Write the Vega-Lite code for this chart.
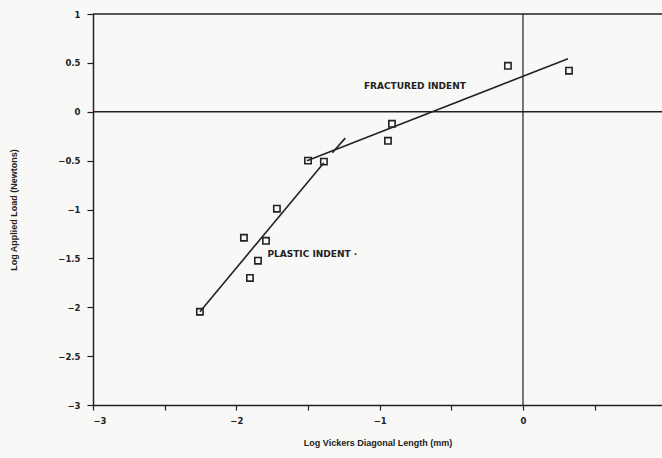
{
  "$schema": "https://vega.github.io/schema/vega-lite/v6.json",
  "width": 569,
  "height": 391,
  "autosize": {"type": "none"},
  "padding": {"left": 93, "top": 14, "right": 0, "bottom": 53},
  "background": "#f8f8f6",
  "config": {
    "view": {"stroke": null},
    "axis": {
      "labelFont": "DejaVu Sans", "labelFontWeight": "bold", "labelFontSize": 8.5, "labelColor": "#222",
      "titleFont": "Liberation Sans", "titleFontWeight": "bold", "titleFontSize": 9, "titleColor": "#222",
      "domainColor": "#222", "domainWidth": 1.5, "tickColor": "#222", "tickWidth": 1.2, "grid": false
    },
    "text": {"font": "DejaVu Sans", "fontWeight": "bold", "fontSize": 9, "fill": "#222"}
  },
  "datasets": {
    "points": [
      {"x": -2.254, "y": -2.046},
      {"x": -1.947, "y": -1.289},
      {"x": -1.905, "y": -1.70},
      {"x": -1.849, "y": -1.524},
      {"x": -1.793, "y": -1.32},
      {"x": -1.717, "y": -0.992},
      {"x": -1.50, "y": -0.50},
      {"x": -1.389, "y": -0.51},
      {"x": -0.942, "y": -0.297},
      {"x": -0.914, "y": -0.123},
      {"x": -0.105, "y": 0.47},
      {"x": 0.321, "y": 0.42}
    ],
    "fits": [
      {"series": "plastic", "x": -2.254, "y": -2.046},
      {"series": "plastic", "x": -1.389, "y": -0.522},
      {"series": "fractured", "x": -1.507, "y": -0.502},
      {"series": "fractured", "x": 0.314, "y": 0.542}
    ],
    "arrow": [
      {"x": -1.33, "y": -0.42, "x2": -1.24, "y2": -0.27}
    ],
    "labels": [
      {"x": -0.754, "y": 0.266, "label": "FRACTURED INDENT"},
      {"x": -1.47, "y": -1.453, "label": "PLASTIC INDENT ·"}
    ]
  },
  "layer": [
    {
      "data": {"values": [{"y": 1}, {"y": 0}]},
      "mark": {"type": "rule", "color": "#222", "strokeWidth": 1.5},
      "encoding": {"y": {"field": "y", "type": "quantitative"}}
    },
    {
      "data": {"values": [{"x": 0}]},
      "mark": {"type": "rule", "color": "#222", "strokeWidth": 1.2},
      "encoding": {"x": {"field": "x", "type": "quantitative"}}
    },
    {
      "data": {"name": "fits"},
      "mark": {"type": "line", "color": "#222", "strokeWidth": 1.6},
      "encoding": {
        "x": {"field": "x", "type": "quantitative"},
        "y": {"field": "y", "type": "quantitative"},
        "detail": {"field": "series"}
      }
    },
    {
      "data": {"name": "arrow"},
      "mark": {"type": "rule", "color": "#222", "strokeWidth": 1.6},
      "encoding": {
        "x": {"field": "x", "type": "quantitative"},
        "y": {"field": "y", "type": "quantitative"},
        "x2": {"field": "x2"},
        "y2": {"field": "y2"}
      }
    },
    {
      "data": {"name": "points"},
      "mark": {"type": "point", "shape": "square", "filled": false, "color": "#222", "strokeWidth": 1.6, "size": 40, "opacity": 1},
      "encoding": {
        "x": {
          "field": "x", "type": "quantitative",
          "scale": {"domain": [-3, 0.97], "nice": false, "zero": false},
          "axis": {
            "title": "Log Vickers Diagonal Length (mm)",
            "values": [-3, -2.5, -2, -1.5, -1, -0.5, 0, 0.5],
            "labelExpr": "datum.value % 1 == 0 ? format(datum.value, '~g') : ''",
            "tickSize": 5, "labelPadding": 6, "titlePadding": 14
          }
        },
        "y": {
          "field": "y", "type": "quantitative",
          "scale": {"domain": [-3, 1], "nice": false, "zero": false},
          "axis": {
            "title": "Log Applied Load (Newtons)",
            "values": [-3, -2.5, -2, -1.5, -1, -0.5, 0, 0.5, 1],
            "format": "~g",
            "tickSize": 6, "labelPadding": 7, "titleX": -75
          }
        }
      }
    },
    {
      "data": {"name": "labels"},
      "mark": {"type": "text", "baseline": "middle", "align": "center"},
      "encoding": {
        "x": {"field": "x", "type": "quantitative"},
        "y": {"field": "y", "type": "quantitative"},
        "text": {"field": "label"}
      }
    }
  ]
}
